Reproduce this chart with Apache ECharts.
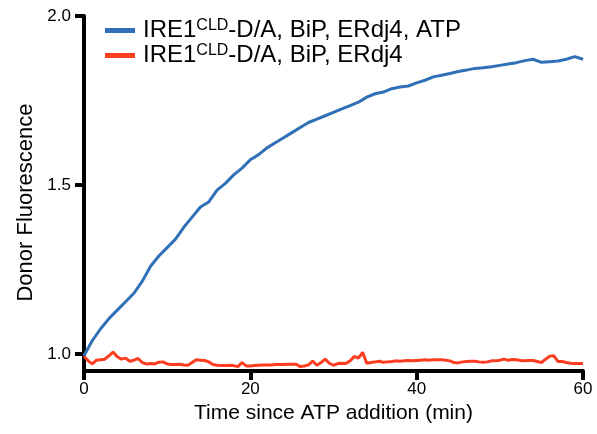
<!DOCTYPE html>
<html>
<head>
<meta charset="utf-8">
<script src="https://cdn.jsdelivr.net/npm/echarts@6/dist/echarts.min.js"></script>
<style>
html, body { margin: 0; padding: 0; background: #fff; }
#chart { width: 597px; height: 434px; }
</style>
</head>
<body>
<div id="chart"></div>
<script>
// minutes since ATP addition
var blueTimes = [];
for (var i = 0; i <= 60; i++) blueTimes.push(i);
var blueValues = [0.995, 1.04, 1.075, 1.105, 1.13, 1.155, 1.18, 1.215, 1.26, 1.29,
  1.315, 1.34, 1.375, 1.405, 1.435, 1.45, 1.485, 1.505, 1.53, 1.55,
  1.575, 1.59, 1.61, 1.625, 1.64, 1.655, 1.67, 1.685, 1.695, 1.705,
  1.715, 1.725, 1.735, 1.745, 1.76, 1.77, 1.775, 1.785, 1.79, 1.793,
  1.802, 1.81, 1.82, 1.825, 1.83, 1.836, 1.84, 1.845, 1.847, 1.85,
  1.854, 1.858, 1.862, 1.868, 1.872, 1.863, 1.865, 1.867, 1.872, 1.88, 1.872];

var redTimes = [];
for (var j = 0; j <= 120; j++) redTimes.push(j / 2);
var redValues = [0.994, 0.98, 0.971, 0.982, 0.983, 0.985, 0.995, 1.006, 0.992, 0.985,
  0.988, 0.979, 0.982, 0.987, 0.975, 0.971, 0.972, 0.971, 0.976, 0.977,
  0.971, 0.969, 0.969, 0.970, 0.968, 0.967, 0.975, 0.983, 0.982, 0.981,
  0.977, 0.969, 0.967, 0.966, 0.966, 0.967, 0.966, 0.963, 0.975, 0.965,
  0.965, 0.966, 0.967, 0.968, 0.968, 0.968, 0.969, 0.969, 0.969, 0.970,
  0.970, 0.970, 0.963, 0.965, 0.968, 0.979, 0.967, 0.975, 0.985, 0.973,
  0.967, 0.972, 0.973, 0.972, 0.98, 0.993, 0.988, 1.005, 0.973, 0.975,
  0.977, 0.979, 0.976, 0.977, 0.978, 0.98, 0.979, 0.98, 0.981, 0.980,
  0.981, 0.982, 0.983, 0.982, 0.983, 0.983, 0.983, 0.982, 0.980, 0.975,
  0.974, 0.977, 0.978, 0.979, 0.979, 0.977, 0.976, 0.977, 0.980, 0.980,
  0.982, 0.985, 0.982, 0.984, 0.983, 0.981, 0.980, 0.981, 0.981, 0.978,
  0.975, 0.985, 0.994, 0.995, 0.978, 0.978, 0.975, 0.973, 0.972, 0.972, 0.972];

var yTicks = [1.0, 1.5, 2.0];

function pairs(xs, ys) {
  return xs.map(function (x, k) { return [x, ys[k]]; });
}

var FONT = 'Liberation Sans, Arial, sans-serif';
var myChart = echarts.init(document.getElementById('chart'));
var option = {
  animation: false,
  grid: { left: 84, right: 14, top: 16, bottom: 63 },
  legend: {
    orient: 'vertical',
    left: 100,
    top: 13,
    itemGap: 0,
    itemWidth: 30,
    itemHeight: 5,
    icon: 'rect',
    data: ['ATP', 'noATP'],
    formatter: function (name) {
      if (name === 'ATP') return '{a|IRE1}{s|CLD}{a|-D/A, BiP, ERdj4, ATP}';
      return '{a|IRE1}{s|CLD}{a|-D/A, BiP, ERdj4}';
    },
    textStyle: {
      padding: [0, 0, 0, 3],
      rich: {
        a: { fontFamily: FONT, fontSize: 24, color: '#000', lineHeight: 24 },
        s: { fontFamily: FONT, fontSize: 16, color: '#000', lineHeight: 24, padding: [0, 0, 9, 0] }
      }
    }
  },
  xAxis: {
    type: 'value',
    min: 0,
    max: 60,
    interval: 20,
    name: 'Time since ATP addition (min)',
    nameLocation: 'middle',
    nameGap: 28,
    nameTextStyle: { fontFamily: FONT, fontSize: 21, color: '#000' },
    splitLine: { show: false },
    axisLine: { show: true, lineStyle: { color: '#000', width: 4 } },
    axisTick: { show: true, length: 9, lineStyle: { color: '#000', width: 4 } },
    axisLabel: { fontFamily: FONT, fontSize: 17, color: '#000', margin: 10 }
  },
  yAxis: {
    type: 'value',
    min: 0.95,
    max: 2.0,
    name: 'Donor Fluorescence',
    nameLocation: 'middle',
    nameGap: 38,
    nameTextStyle: { fontFamily: FONT, fontSize: 22, color: '#000', padding: [0, 18, 0, 0] },
    splitLine: { show: false },
    axisLine: { show: true, lineStyle: { color: '#000', width: 4 } },
    axisTick: { show: true, length: 9, lineStyle: { color: '#000', width: 4 }, customValues: yTicks },
    axisLabel: {
      fontFamily: FONT, fontSize: 17, color: '#000', margin: 13,
      customValues: yTicks,
      formatter: function (v) { return v.toFixed(1); }
    }
  },
  series: [
    {
      name: 'ATP',
      type: 'line',
      data: pairs(blueTimes, blueValues),
      showSymbol: false,
      color: '#2f70b6',
      lineStyle: { width: 3 },
      z: 3
    },
    {
      name: 'noATP',
      type: 'line',
      data: pairs(redTimes, redValues),
      showSymbol: false,
      color: '#fc3d21',
      lineStyle: { width: 3 },
      z: 2
    }
  ]
};
myChart.setOption(option);
</script>
</body>
</html>
